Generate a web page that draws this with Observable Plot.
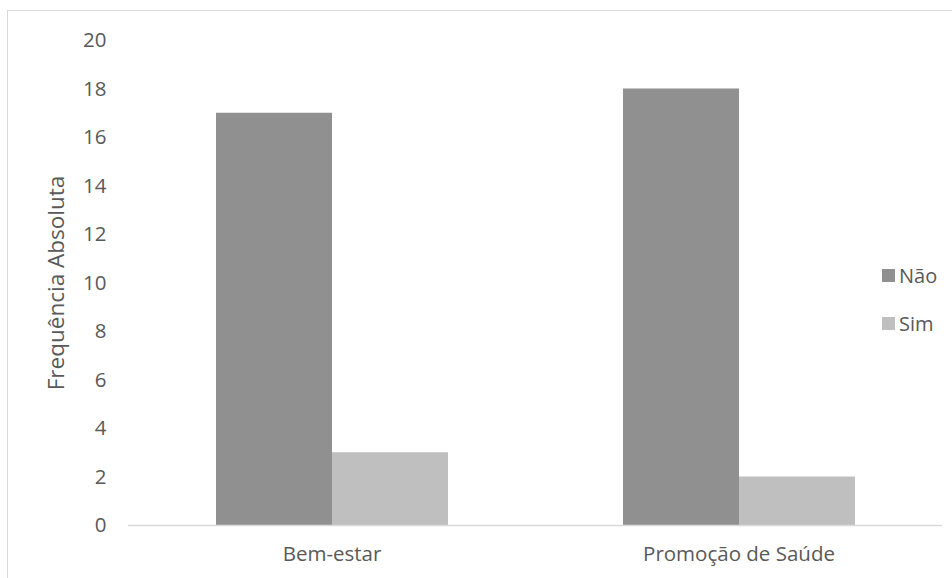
<!DOCTYPE html>
<html><head><meta charset="utf-8">
<script src="https://cdn.jsdelivr.net/npm/d3@7"></script>
<script src="https://cdn.jsdelivr.net/npm/@observablehq/plot@0.6"></script>
<style>
body{margin:0;background:#fff;overflow:hidden;font-family:"Open Sans",sans-serif}
#wrap{position:relative;width:952px;height:578px;overflow:hidden}
#frame{position:absolute;left:7px;top:10px;width:1000px;height:700px;border:1.5px solid #d9d9d9;box-sizing:border-box;pointer-events:none}
#legend{position:absolute;left:882px;top:262px;font-size:20px;color:#595959}
.li{display:flex;align-items:center;height:26px;margin-bottom:22px}
.sw{width:13px;height:13px;margin-right:4px}
#chart g[aria-label="y-axis label"] text{font-size:22.5px}
</style>
</head><body>
<div id="wrap"><div id="frame"></div><div id="chart"></div><div id="legend"></div></div>
<script>
const categories = ["Bem-estar", "Promoção de Saúde"];
const series = ["Não", "Sim"];
const naoValues = [17, 18];
const simValues = [3, 2];
const yTicks = [0, 2, 4, 6, 8, 10, 12, 14, 16, 18, 20];
const seriesColors = ["#909090", "#bfbfbf"];

const rows = [];
categories.forEach((c, i) => {
  rows.push({category: c, series: series[0], value: naoValues[i]});
  rows.push({category: c, series: series[1], value: simValues[i]});
});

const chart = Plot.plot({
  width: 952,
  height: 578,
  marginLeft: 128,
  marginRight: 10,
  marginTop: 40,
  marginBottom: 53,
  style: {fontFamily: "'Open Sans', sans-serif", fontSize: "20.5px", color: "#595959", background: "transparent"},
  fx: {domain: categories, padding: 0, label: null, axis: "bottom", tickSize: 0, tickPadding: 21},
  x: {domain: series, paddingInner: 0, paddingOuter: 0.754, axis: null},
  y: {domain: [0, 20], ticks: yTicks, tickSize: 0, tickPadding: 22, label: "Frequência Absoluta", labelAnchor: "center", labelArrow: "none", labelOffset: 80},
  color: {domain: series, range: seriesColors},
  marks: [
    Plot.barY(rows, {fx: "category", x: "series", y: "value", fill: "series"}),
    Plot.ruleY([0], {stroke: "#d9d9d9", strokeWidth: 1.5})
  ]
});
document.getElementById("chart").appendChild(chart);

const lg = document.getElementById("legend");
series.forEach((s, i) => {
  const d = document.createElement("div");
  d.className = "li";
  d.innerHTML = `<span class="sw" style="background:${seriesColors[i]}"></span><span>${s}</span>`;
  lg.appendChild(d);
});
</script>
</body></html>
